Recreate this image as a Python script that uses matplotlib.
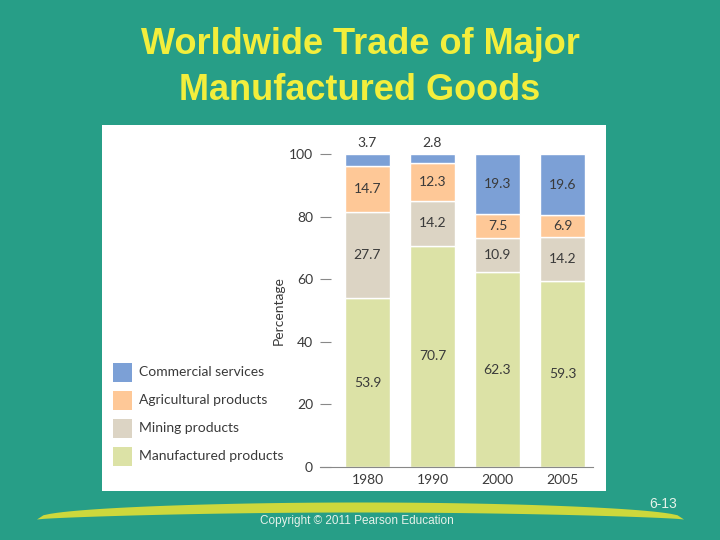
import numpy as np
import matplotlib.pyplot as plt
from matplotlib.patches import Rectangle, Polygon

years = ["1980", "1990", "2000", "2005"]
manufactured = [53.9, 70.7, 62.3, 59.3]
mining = [27.7, 14.2, 10.9, 14.2]
agricultural = [14.7, 12.3, 7.5, 6.9]
commercial = [3.7, 2.8, 19.3, 19.6]

series_names = ["Manufactured products", "Mining products",
                "Agricultural products", "Commercial services"]
series_colors = ["#dce2a6", "#dcd4c4", "#fec897", "#7ca0d6"]

BG = "#279e87"
TEXT = "#3a3a3a"

fig = plt.figure(figsize=(7.2, 5.4), dpi=100, facecolor=BG)

# title
fig.text(0.5, 1 - 45 / 540, "Worldwide Trade of Major", ha="center", va="center",
         fontsize=26, color="#f3ee3c", family="Liberation Sans", weight="bold")
fig.text(0.5, 1 - 90 / 540, "Manufactured Goods", ha="center", va="center",
         fontsize=26, color="#f3ee3c", family="Liberation Sans", weight="bold")

# white panel
fig.add_artist(Rectangle((102 / 720, 1 - 491 / 540), 504 / 720, 366 / 540,
                         transform=fig.transFigure, facecolor="white",
                         edgecolor="none", zorder=0))

# bottom swoosh
t = np.linspace(0, 1, 100)
xs = 37 + (684 - 37) * t
top = 519.5 - 17 * np.sin(np.pi * t) ** 0.4
bot = 519.5 - 7 * np.sin(np.pi * t) ** 0.7
pts = np.vstack([np.column_stack([xs, top]), np.column_stack([xs[::-1], bot[::-1]])])
pts = np.column_stack([pts[:, 0] / 720, 1 - pts[:, 1] / 540])
fig.add_artist(Polygon(pts, closed=True, transform=fig.transFigure,
                       facecolor="#cdd83c", edgecolor="none", zorder=0))

fig.text(663 / 720, 1 - 504 / 540, "6-13", ha="center", va="center",
         fontsize=10, color="#e6f2ea", family="Liberation Sans")
fig.text(357 / 720, 1 - 521 / 540, "Copyright \u00a9 2011 Pearson Education",
         ha="center", va="center", fontsize=8.5, color="#e6f2ea",
         family="Liberation Sans")

# chart axes
ax = fig.add_axes([320 / 720, 1 - 467 / 540, 273 / 720, 313 / 540])
ax.set_facecolor("none")
x = np.arange(len(years))
width = 0.69
bottoms = np.zeros(len(years))
stack = [manufactured, mining, agricultural, commercial]
for vals, color in zip(stack, series_colors):
    vals = np.array(vals)
    ax.bar(x, vals, width, bottom=bottoms, color=color, edgecolor="white",
           linewidth=1.0)
    for xi, b, v in zip(x, bottoms, vals):
        if v < 5:
            ax.text(xi, 100 + 3.5, f"{v:.1f}", ha="center", va="center",
                    fontsize=10, color=TEXT, family="Lato")
        else:
            ax.text(xi, b + v / 2, f"{v:.1f}", ha="center", va="center",
                    fontsize=10, color=TEXT, family="Lato")
    bottoms = bottoms + vals

ax.set_xlim(-0.73, 3.47)
ax.set_ylim(0, 100)
for side in ["top", "right", "left"]:
    ax.spines[side].set_visible(False)
ax.spines["bottom"].set_color("#888888")
ax.spines["bottom"].set_linewidth(0.8)
ax.set_yticks([0, 20, 40, 60, 80, 100])
ax.set_xticks(x)
ax.set_xticklabels(years)
ax.tick_params(axis="y", direction="in", length=8, color="#888888", width=0.8,
               labelsize=10, labelcolor=TEXT, pad=5)
ax.tick_params(axis="x", length=0, labelsize=10, labelcolor=TEXT, pad=5)
for lab in ax.get_xticklabels() + ax.get_yticklabels():
    lab.set_family("Lato")
ax.set_ylabel("Percentage", fontsize=10, color=TEXT, family="Lato", labelpad=3)

# legend
rows = [372, 400, 428, 456]
for name, color, yy in zip(series_names[::-1], series_colors[::-1], rows):
    fig.add_artist(Rectangle((113 / 720, 1 - (yy + 9.5) / 540), 19 / 720, 19 / 540,
                             transform=fig.transFigure, facecolor=color,
                             edgecolor="none"))
    fig.text(139 / 720, 1 - yy / 540, name, ha="left", va="center",
             fontsize=10, color=TEXT, family="Lato")

fig.savefig("out.png", dpi=100, facecolor=BG)
